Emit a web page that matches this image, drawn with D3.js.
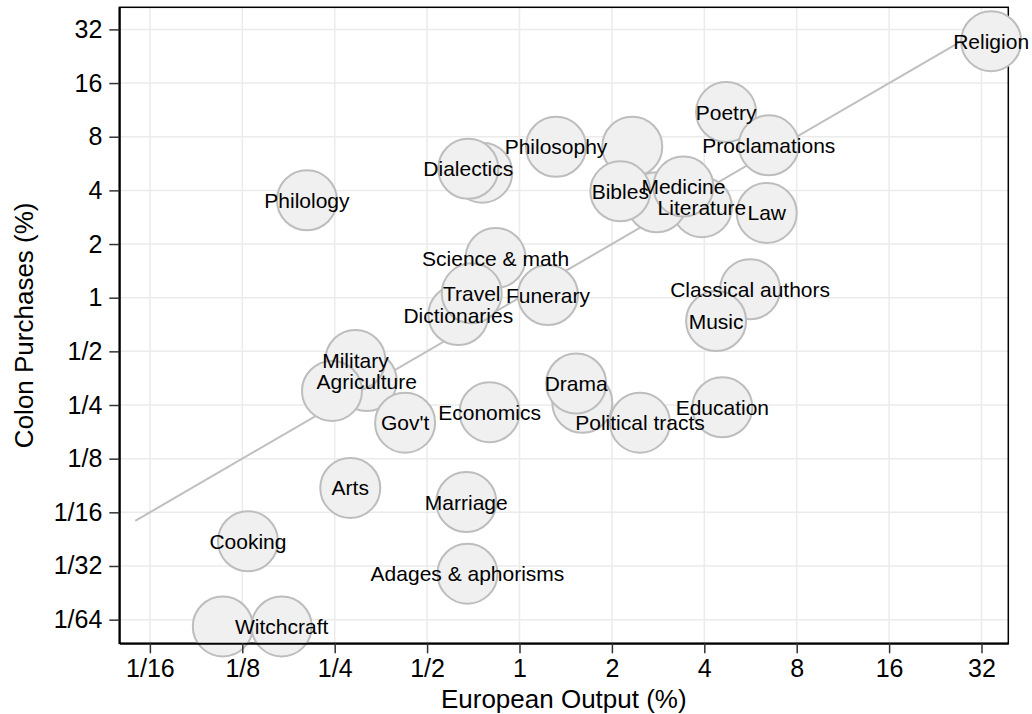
<!DOCTYPE html>
<html>
<head>
<meta charset="utf-8">
<script src="https://cdn.jsdelivr.net/npm/d3@7"></script>
<style>
  body { margin: 0; background: #fff; }
  svg { display: block; font-family: "Liberation Sans", Arial, sans-serif; }
</style>
</head>
<body>
<svg id="chart" width="1032" height="714"></svg>
<script>
// category labels ("" = circle whose label was dropped for overlap)
var categories = [
  "Religion", "Poetry", "Proclamations", "Law", "Literature", "",
  "Medicine", "", "Bibles", "Philosophy", "", "Dialectics", "Philology",
  "Science & math", "Dictionaries", "Travel", "Funerary", "Classical authors",
  "Music", "Agriculture", "Military", "", "Gov't", "Economics", "",
  "Drama", "Political tracts", "Education", "Arts", "Marriage", "Cooking",
  "Adages & aphorisms", "", "Witchcraft"
];
// European output (%)
var europeanOutput = [
  34.4, 4.71, 6.49, 6.39, 3.93, 2.80,
  3.42, 2.33, 2.13, 1.315, 0.756, 0.681, 0.203,
  0.836, 0.632, 0.699, 1.238, 5.64,
  4.37, 0.318, 0.292, 0.245, 0.424, 0.799, 1.602,
  1.530, 2.469, 4.58, 0.281, 0.671, 0.1304,
  0.677, 0.108, 0.168
];
// Colon purchases (%)
var colonPurchases = [
  27.5, 11.0, 7.16, 2.99, 3.22, 3.43,
  4.20, 7.03, 3.95, 7.03, 5.03, 5.29, 3.52,
  1.67, 0.800, 1.058, 1.035, 1.115,
  0.740, 0.341, 0.447, 0.300, 0.199, 0.228, 0.2575,
  0.330, 0.199, 0.243, 0.0857, 0.0714, 0.0430,
  0.0283, 0.01432, 0.01432
];
var xTickValues = [1/16, 1/8, 1/4, 1/2, 1, 2, 4, 8, 16, 32];
var yTickValues = [1/64, 1/32, 1/16, 1/8, 1/4, 1/2, 1, 2, 4, 8, 16, 32];
// y = x reference line, from / to
var refLine = [0.056, 34.3];

var W = 1032, H = 714;
var m = { top: 7.3, right: W - 1008.3, bottom: H - 643.3, left: 119.3 };

var svg = d3.select("#chart");

var x = d3.scaleLog().base(2)
  .domain([Math.pow(2, -4.331), Math.pow(2, 5.29)])
  .range([m.left, W - m.right]);
var y = d3.scaleLog().base(2)
  .domain([Math.pow(2, -6.441), Math.pow(2, 5.412)])
  .range([H - m.bottom, m.top]);

function fmt(v) {
  return v >= 1 ? String(Math.round(v)) : "1/" + Math.round(1 / v);
}

// grid
var grid = svg.append("g");
grid.selectAll("line.gx").data(xTickValues).join("line")
  .attr("x1", function(d) { return x(d); }).attr("x2", function(d) { return x(d); })
  .attr("y1", m.top).attr("y2", H - m.bottom)
  .attr("stroke", "#ebebeb").attr("stroke-width", 1.5);
grid.selectAll("line.gy").data(yTickValues).join("line")
  .attr("y1", function(d) { return y(d); }).attr("y2", function(d) { return y(d); })
  .attr("x1", m.left).attr("x2", W - m.right)
  .attr("stroke", "#ebebeb").attr("stroke-width", 1.5);

// panel border (sits under the bubbles)
svg.append("rect")
  .attr("x", m.left).attr("y", m.top)
  .attr("width", W - m.left - m.right).attr("height", H - m.top - m.bottom)
  .attr("fill", "none").attr("stroke", "#000").attr("stroke-width", 1.5);

// reference line
svg.append("line")
  .attr("x1", x(refLine[0])).attr("y1", y(refLine[0]))
  .attr("x2", x(refLine[1])).attr("y2", y(refLine[1]))
  .attr("stroke", "#bfbfbf").attr("stroke-width", 2);

var pts = categories.map(function(c, i) {
  return { name: c, ex: europeanOutput[i], cp: colonPurchases[i] };
});

// bubbles
svg.append("g").selectAll("circle").data(pts).join("circle")
  .attr("cx", function(d) { return x(d.ex); })
  .attr("cy", function(d) { return y(d.cp); })
  .attr("r", 30)
  .attr("fill", "#f0f0f0")
  .attr("stroke", "#bdbdbd")
  .attr("stroke-width", 2);

// labels
svg.append("g").selectAll("text").data(pts.filter(function(d) { return d.name; })).join("text")
  .attr("x", function(d) { return x(d.ex); })
  .attr("y", function(d) { return y(d.cp); })
  .attr("dy", "0.36em")
  .attr("text-anchor", "middle")
  .attr("font-size", 21)
  .attr("fill", "#000")
  .text(function(d) { return d.name; });

// axes
var gx = svg.append("g")
  .attr("transform", "translate(0," + (H - m.bottom) + ")")
  .call(d3.axisBottom(x).tickValues(xTickValues).tickFormat(fmt)
    .tickSize(10).tickSizeOuter(0).tickPadding(6));
var gy = svg.append("g")
  .attr("transform", "translate(" + m.left + ",0)")
  .call(d3.axisLeft(y).tickValues(yTickValues).tickFormat(fmt)
    .tickSize(10).tickSizeOuter(0).tickPadding(7));
[gx, gy].forEach(function(g) {
  g.select(".domain").attr("stroke", "#000").attr("stroke-width", 2);
  g.selectAll(".tick line").attr("stroke", "#333").attr("stroke-width", 1.5);
  g.selectAll(".tick text").attr("fill", "#000")
    .attr("font-size", 25).attr("font-family", "Liberation Sans, Arial, sans-serif");
});

// axis titles
svg.append("text")
  .attr("x", (m.left + W - m.right) / 2).attr("y", 708)
  .attr("text-anchor", "middle").attr("font-size", 26)
  .text("European Output (%)");
svg.append("text")
  .attr("transform", "translate(33," + ((m.top + H - m.bottom) / 2) + ") rotate(-90)")
  .attr("text-anchor", "middle").attr("font-size", 26)
  .text("Colon Purchases (%)");
</script>
</body>
</html>
